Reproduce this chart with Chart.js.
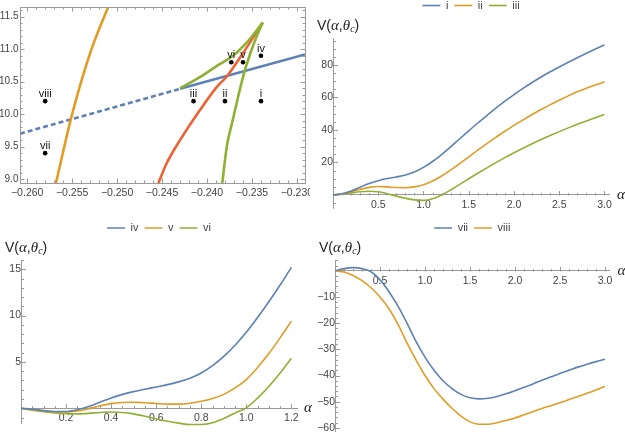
<!DOCTYPE html>
<html lang="en">
<head>
<meta charset="UTF-8">
<title>V(α,θc) panels</title>
<script src="https://cdn.jsdelivr.net/npm/chart.js@4"></script>
<style>
  html, body { margin: 0; padding: 0; background: #fff; }
  body { position: relative; width: 625px; height: 435px; overflow: hidden; }
  canvas { position: absolute; }
</style>
</head>
<body>
<canvas id="pA" width="310" height="200" style="left:0;top:0"></canvas>
<canvas id="pB" width="315" height="216" style="left:310px;top:-6px"></canvas>
<canvas id="pC" width="316" height="219" style="left:0;top:216px"></canvas>
<canvas id="pD" width="315" height="219" style="left:310px;top:216px"></canvas>
<script>
// ---- top-left: curves in the parameter plane ----
const blueDashX = [-0.2608, -0.2430];
const blueDashY = [9.70, 10.39];
const blueSolidX = [-0.2430, -0.2291];
const blueSolidY = [10.39, 10.92];
const orangeX = [-0.2568, -0.2550, -0.2530, -0.2510];
const orangeY = [8.94, 10.00, 10.94, 11.65];
const redX = [-0.2454, -0.2445, -0.2430, -0.2408, -0.2389, -0.2378, -0.2360, -0.2338];
const redY = [8.94, 9.24, 9.60, 10.06, 10.42, 10.58, 10.94, 11.41];
const greenAX = [-0.2383, -0.2378, -0.2371, -0.2365, -0.2359, -0.2352, -0.2345, -0.2338];
const greenAY = [8.94, 9.50, 9.93, 10.29, 10.62, 10.93, 11.19, 11.41];
const greenBX = [-0.2430, -0.2408, -0.2386, -0.2371, -0.2356, -0.2338];
const greenBY = [10.40, 10.57, 10.77, 10.90, 11.10, 11.41];
const ptLabels = ['i', 'ii', 'iii', 'iv', 'v', 'vi', 'vii', 'viii'];
const ptX = [-0.2340, -0.2380, -0.2415, -0.2340, -0.2360, -0.2373, -0.2580, -0.2580];
const ptY = [10.2, 10.2, 10.2, 10.9, 10.8, 10.8, 9.4, 10.2];

// ---- top-right and bottom-right: alpha from 0 to 3 ----
const alphaLong = [0, 0.1, 0.2, 0.3, 0.4, 0.5, 0.6, 0.7, 0.8, 0.9, 1.0, 1.1, 1.2, 1.3, 1.4, 1.5,
  1.6, 1.7, 1.8, 1.9, 2.0, 2.1, 2.2, 2.3, 2.4, 2.5, 2.6, 2.7, 2.8, 2.9, 3.0];
const vI = [0, 0.8, 2.5, 4.8, 7.0, 8.8, 10.1, 11.1, 12.3, 14.2, 17, 20.6, 24.9, 29.6, 34.6, 39.5,
  44.3, 48.9, 53.4, 57.7, 61.8, 65.6, 69.2, 72.6, 75.8, 78.8, 81.7, 84.5, 87.2, 89.8, 92.3];
const vII = [0, 0.7, 2, 3.5, 4.7, 5.2, 5, 4.6, 4.5, 5.0, 6.3, 8.6, 11.7, 15.3, 19.3, 23.5,
  27.6, 31.6, 35.5, 39.2, 42.8, 46.2, 49.5, 52.6, 55.6, 58.3, 61.0, 63.5, 65.7, 67.7, 69.6];
const vIII = [0, 0.5, 1.3, 2, 2.3, 2, 0.8, -0.7, -2, -3, -3.3, -2.3, 0, 3.1, 6.5, 10,
  13.4, 16.7, 19.9, 23, 26, 28.8, 31.5, 34.1, 36.6, 39, 41.3, 43.5, 45.6, 47.6, 49.6];
const vVII = [0, 0.8, 1.2, 0.8, -0.4, -3.5, -8, -13.5, -20, -27, -33, -38, -42, -45, -47.2, -48.5,
  -48.9, -48.7, -48, -47, -45.8, -44.5, -43.2, -41.8, -40.5, -39.2, -38, -36.8, -35.7, -34.7, -33.8];
const vVIII = [0, -0.5, -1.8, -3.8, -6.5, -10, -14.5, -20.5, -27.5, -34, -40, -45, -49, -52.5, -55.5, -57.7,
  -58.6, -58.6, -58, -57.2, -56.2, -55, -53.8, -52.6, -51.5, -50.4, -49.2, -48, -46.8, -45.5, -44.1];

// ---- bottom-left: alpha from 0 to 1.2 ----
const alphaShort = [0, 0.05, 0.1, 0.15, 0.2, 0.25, 0.3, 0.35, 0.4, 0.45, 0.5, 0.55, 0.6,
  0.65, 0.7, 0.75, 0.8, 0.85, 0.9, 0.95, 1.0, 1.05, 1.1, 1.15, 1.2];
const vIV = [0, -0.1, -0.25, -0.35, -0.35, -0.15, 0.2, 0.65, 1.1, 1.5, 1.8, 2.05, 2.3,
  2.55, 2.85, 3.25, 3.8, 4.6, 5.6, 6.8, 8.2, 9.8, 11.5, 13.3, 15.2];
const vV = [0, -0.15, -0.3, -0.4, -0.4, -0.3, -0.05, 0.25, 0.5, 0.62, 0.65, 0.6, 0.52,
  0.45, 0.45, 0.55, 0.75, 1.05, 1.5, 2.2, 3.1, 4.4, 5.9, 7.6, 9.4];
const vVI = [0, -0.2, -0.38, -0.5, -0.58, -0.6, -0.55, -0.45, -0.4, -0.45, -0.6, -0.85, -1.15,
  -1.4, -1.6, -1.75, -1.75, -1.55, -1.1, -0.5, 0.05, 1.1, 2.35, 3.8, 5.4];

const BLUE = '#5e81b5', ORANGE = '#e19c24', GREEN = '#8fb032', RED = '#eb6235';
const AXIS = '#9a9a9a';
const SANS = '"Liberation Sans", Arial, sans-serif';
const SERIF = '"Liberation Serif", "Times New Roman", serif';

Chart.defaults.font.family = SANS;
Chart.defaults.font.size = 10.5;
Chart.defaults.color = '#444';

const xy = (xs, ys) => xs.map((x, i) => ({ x: x, y: ys[i] }));

function isMajor(v, major) {
    const r = v / major;
    return Math.abs(r - Math.round(r)) < 1e-6;
}

function fmt(v, dp) {
    return (v < -1e-12 ? '\u2212' : '') + Math.abs(v).toFixed(dp);
}

function zeroPad(s) {
    s.paddingLeft = 0; s.paddingRight = 0; s.paddingTop = 0; s.paddingBottom = 0;
}

function axis(min, max, step, major, dp, extra) {
    return Object.assign({
        type: 'linear', min: min, max: max,
        border: { color: AXIS, width: 1 },
        grid: { drawOnChartArea: false, drawTicks: false },
        ticks: {
            stepSize: step, includeBounds: false, autoSkip: false, maxRotation: 0, padding: 4,
            callback: v => (isMajor(v, major) && Math.abs(v) > 1e-9) ? fmt(v, dp) : ''
        },
        afterFit: zeroPad
    }, extra);
}

// empty band between the legend and the plot
const gapAxis = h => ({
    axis: 'x', type: 'linear', position: 'top', display: true,
    grid: { display: false }, border: { display: false }, ticks: { display: false },
    afterFit: s => { zeroPad(s); s.height = h; }
});

// short ticks pointing into the plot, like Mathematica
const innerTicks = {
    id: 'innerTicks',
    afterDraw(chart, args, opts) {
        const { ctx, chartArea: a } = chart;
        const xs = chart.scales.x, ys = chart.scales.y;
        const xLine = opts.frame ? a.bottom : Math.round(ys.getPixelForValue(0)) + 0.5;
        const yLine = opts.frame ? a.left : Math.round(xs.getPixelForValue(0)) + 0.5;
        ctx.save();
        ctx.strokeStyle = AXIS;
        ctx.lineWidth = 1;
        ctx.beginPath();
        xs.ticks.forEach(t => {
            if (!opts.frame && Math.abs(t.value) < 1e-9) return;
            const px = Math.round(xs.getPixelForValue(t.value)) + 0.5;
            const len = isMajor(t.value, opts.xMajor) ? 4.5 : 2.5;
            ctx.moveTo(px, xLine); ctx.lineTo(px, xLine - len);
            if (opts.frame) { ctx.moveTo(px, a.top); ctx.lineTo(px, a.top + len); }
        });
        ys.ticks.forEach(t => {
            if (!opts.frame && Math.abs(t.value) < 1e-9) return;
            const py = Math.round(ys.getPixelForValue(t.value)) + 0.5;
            const len = isMajor(t.value, opts.yMajor) ? 4.5 : 2.5;
            ctx.moveTo(yLine, py); ctx.lineTo(yLine + len, py);
            if (opts.frame) { ctx.moveTo(a.right, py); ctx.lineTo(a.right - len, py); }
        });
        ctx.stroke();
        if (opts.frame) {
            ctx.strokeRect(Math.round(a.left) + 0.5, Math.round(a.top) + 0.5,
                Math.round(a.right - a.left), Math.round(a.bottom - a.top));
        }
        ctx.restore();
    }
};

// roman-numeral names over the black dots
const pointNames = {
    id: 'pointNames',
    afterDatasetsDraw(chart, args, opts) {
        const meta = chart.getDatasetMeta(opts.datasetIndex);
        const ctx = chart.ctx;
        ctx.save();
        ctx.fillStyle = '#111';
        ctx.font = '11px ' + SANS;
        ctx.textAlign = 'center';
        ctx.textBaseline = 'bottom';
        meta.data.forEach((pt, i) => ctx.fillText(opts.labels[i], pt.x, pt.y - 1.5));
        ctx.restore();
    }
};

// V(α,θc) above the vertical axis and α after the horizontal one
const axisNames = {
    id: 'axisNames',
    afterDraw(chart, args, opts) {
        const { ctx, chartArea: a } = chart;
        const y0 = chart.scales.y.getPixelForValue(0);
        ctx.save();
        ctx.fillStyle = '#222';
        ctx.textBaseline = 'middle';
        ctx.textAlign = 'left';
        ctx.font = 'italic 15px ' + SERIF;
        ctx.fillText('α', a.right + (opts.alphaGap || 8), y0);
        let x = a.left - 16;
        const y = a.top - 12;
        const parts = [
            ['V(', '14px ' + SANS, 0],
            ['α', 'italic 15px ' + SERIF, 0],
            [',', '14px ' + SANS, 0],
            ['θ', 'italic 15px ' + SERIF, 0],
            ['c', 'italic 10px ' + SERIF, 3.5],
            [')', '14px ' + SANS, 0]
        ];
        parts.forEach(p => {
            ctx.font = p[1];
            ctx.fillText(p[0], x, y + p[2]);
            x += ctx.measureText(p[0]).width;
        });
        ctx.restore();
    }
};

function curve(label, xs, ys, color) {
    return {
        label: label, data: xy(xs, ys), xAxisID: 'x', yAxisID: 'y',
        borderColor: color, backgroundColor: color, borderWidth: 1.6,
        pointRadius: 0, cubicInterpolationMode: 'monotone', fill: false, clip: 6
    };
}

const legendOpts = {
    display: true, position: 'top', align: 'center',
    labels: { usePointStyle: true, pointStyle: 'line', pointStyleWidth: 18, padding: 6,
              color: '#444', font: { size: 11 } }
};

// top-left
new Chart(document.getElementById('pA'), {
    type: 'scatter',
    data: {
        datasets: [
            { data: xy(ptX, ptY), pointRadius: 2.3, pointBackgroundColor: '#000', pointBorderWidth: 0 },
            { data: xy(greenBX, greenBY), showLine: true, borderColor: GREEN, borderWidth: 2.6, pointRadius: 0, cubicInterpolationMode: 'monotone' },
            { data: xy(greenAX, greenAY), showLine: true, borderColor: GREEN, borderWidth: 2.6, pointRadius: 0, cubicInterpolationMode: 'monotone' },
            { data: xy(redX, redY), showLine: true, borderColor: RED, borderWidth: 2.6, pointRadius: 0, cubicInterpolationMode: 'monotone' },
            { data: xy(orangeX, orangeY), showLine: true, borderColor: ORANGE, borderWidth: 2.6, pointRadius: 0, cubicInterpolationMode: 'monotone' },
            { data: xy(blueSolidX, blueSolidY), showLine: true, borderColor: BLUE, borderWidth: 2.6, pointRadius: 0 },
            { data: xy(blueDashX, blueDashY), showLine: true, borderColor: BLUE, borderWidth: 2.6, borderDash: [5, 3], pointRadius: 0 }
        ]
    },
    options: {
        responsive: false, animation: false, events: [],
        layout: { padding: { left: 0, right: 5, top: 7, bottom: 0 } },
        plugins: {
            legend: { display: false }, tooltip: { enabled: false },
            innerTicks: { frame: true, xMajor: 0.005, yMajor: 0.5 },
            pointNames: { datasetIndex: 0, labels: ptLabels }
        },
        scales: {
            x: axis(-0.2608, -0.2291, 0.001, 0.005, 3, {
                position: 'bottom', ticks: {
                    stepSize: 0.001, includeBounds: false, autoSkip: false, maxRotation: 0, padding: 4,
                    callback: v => isMajor(v, 0.005) ? fmt(v, 3) : ''
                },
                afterFit: s => { zeroPad(s); s.height = 17; }
            }),
            y: axis(8.94, 11.65, 0.1, 0.5, 1, {
                position: 'left', ticks: {
                    stepSize: 0.1, includeBounds: false, autoSkip: false, padding: 1.5, font: { size: 10 },
                    callback: v => isMajor(v, 0.5) ? fmt(v, 1) : ''
                },
                afterFit: s => { zeroPad(s); s.width = 20; }
            })
        }
    },
    plugins: [innerTicks, pointNames]
});

// top-right
new Chart(document.getElementById('pB'), {
    type: 'line',
    data: {
        datasets: [
            curve('i', alphaLong, vI, BLUE),
            curve('ii', alphaLong, vII, ORANGE),
            curve('iii', alphaLong, vIII, GREEN)
        ]
    },
    options: {
        responsive: false, animation: false, events: [],
        layout: { padding: { left: 23, right: 16, top: 0, bottom: 2 } },
        plugins: { legend: legendOpts, tooltip: { enabled: false }, innerTicks: { xMajor: 0.5, yMajor: 20 } },
        scales: {
            x: axis(0, 3.05, 0.1, 0.5, 1, { position: { y: 0 } }),
            y: axis(-8, 96.6, 5, 20, 0, { position: { x: 0 } }),
            gap: gapAxis(17)
        }
    },
    plugins: [innerTicks, axisNames]
});

// bottom-left
new Chart(document.getElementById('pC'), {
    type: 'line',
    data: {
        datasets: [
            curve('iv', alphaShort, vIV, BLUE),
            curve('v', alphaShort, vV, ORANGE),
            curve('vi', alphaShort, vVI, GREEN)
        ]
    },
    options: {
        responsive: false, animation: false, events: [],
        layout: { padding: { left: 21, right: 19, top: 0.5, bottom: 11.7 } },
        plugins: { legend: legendOpts, tooltip: { enabled: false }, innerTicks: { xMajor: 0.2, yMajor: 5 },
                   axisNames: { alphaGap: 7 } },
        scales: {
            x: axis(0, 1.225, 0.05, 0.2, 1, { position: { y: 0 } }),
            y: axis(-1.62, 16, 1, 5, 0, { position: { x: 0 } }),
            gap: gapAxis(16.5)
        }
    },
    plugins: [innerTicks, axisNames]
});

// bottom-right
new Chart(document.getElementById('pD'), {
    type: 'line',
    data: {
        datasets: [
            curve('vii', alphaLong, vVII, BLUE),
            curve('viii', alphaLong, vVIII, ORANGE)
        ]
    },
    options: {
        responsive: false, animation: false, events: [],
        layout: { padding: { left: 25, right: 15.5, top: 0.5, bottom: 3.3 } },
        plugins: { legend: legendOpts, tooltip: { enabled: false }, innerTicks: { xMajor: 0.5, yMajor: 10 } },
        scales: {
            x: axis(0, 3.05, 0.1, 0.5, 1, { position: { y: 0 } }),
            y: axis(-61.45, 4.1, 2, 10, 0, { position: { x: 0 } }),
            gap: gapAxis(16.5)
        }
    },
    plugins: [innerTicks, axisNames]
});
</script>
</body>
</html>
